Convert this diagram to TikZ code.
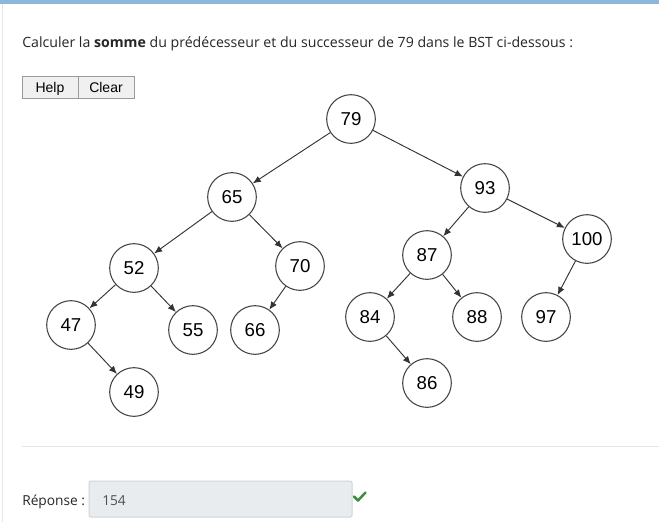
\documentclass[tikz,border=0pt]{standalone}
\usepackage{fontspec}
\setmainfont{Liberation Sans}
\newfontfamily\uifont{Open Sans}
\usetikzlibrary{arrows.meta}
\definecolor{barblue}{HTML}{8DB6DA}
\definecolor{edgegray}{HTML}{333333}
\definecolor{ringgray}{HTML}{444444}
\definecolor{sepgray}{HTML}{E6E6E6}
\definecolor{btnfill}{HTML}{F0F0F0}
\definecolor{btnline}{HTML}{9A9A9A}
\definecolor{boxfill}{HTML}{E9ECEF}
\definecolor{boxline}{HTML}{CED4DA}
\definecolor{boxtext}{HTML}{495057}
\definecolor{okgreen}{HTML}{3E8E3E}
\begin{document}
\begin{tikzpicture}[x=0.75pt,y=-0.75pt,
  bstnode/.style={circle,draw=ringgray,line width=0.8pt,fill=white,minimum size=36.5pt,inner sep=0pt,font=\fontsize{14}{16}\selectfont},
  bstedge/.style={draw=edgegray,line width=0.7pt,-{Latex[length=6pt,width=5pt]}},
  uitext/.style={font=\uifont\fontsize{10.3}{12}\selectfont,text=black!85,inner sep=0pt},
  titletext/.style={font=\uifont\fontsize{10.6}{12}\selectfont,text=black!85,inner sep=0pt},
  btntext/.style={font=\fontsize{10.5}{12}\selectfont,inner sep=0pt,anchor=base}]
\useasboundingbox (0,0) rectangle (659,522);
\fill[white] (0,0) rectangle (659,522);
\fill[barblue] (0,0) rectangle (659,4);
\draw[sepgray,line width=0.75pt] (2.5,4) -- (2.5,522);
% title
\node[titletext,anchor=base west] (title) at (22,47) {Calculer la \textbf{somme} du prédécesseur et du successeur de 79 dans le BST ci-dessous :};
% buttons
\draw[btnline,fill=btnfill,line width=0.75pt] (22,76) rectangle (134,98);
\draw[btnline,line width=0.75pt] (78,76) -- (78,98);
\node[btntext] (help) at (50,92) {Help};
\node[btntext] (clear) at (106,92) {Clear};
% tree nodes
\node[bstnode] (n79) at (351,119) {79};
\node[bstnode] (n65) at (232,197) {65};
\node[bstnode] (n93) at (485,188) {93};
\node[bstnode] (n52) at (134,268) {52};
\node[bstnode] (n70) at (300,266) {70};
\node[bstnode] (n87) at (427,255) {87};
\node[bstnode] (n100) at (587,239) {100};
\node[bstnode] (n47) at (71,325) {47};
\node[bstnode] (n55) at (193,330) {55};
\node[bstnode] (n66) at (255,330) {66};
\node[bstnode] (n84) at (370,317) {84};
\node[bstnode] (n88) at (477,317) {88};
\node[bstnode] (n97) at (546,317) {97};
\node[bstnode] (n49) at (134,392) {49};
\node[bstnode] (n86) at (427,383) {86};
% edges
\draw[bstedge] (n79) -- (n65);
\draw[bstedge] (n79) -- (n93);
\draw[bstedge] (n65) -- (n52);
\draw[bstedge] (n65) -- (n70);
\draw[bstedge] (n52) -- (n47);
\draw[bstedge] (n52) -- (n55);
\draw[bstedge] (n47) -- (n49);
\draw[bstedge] (n70) -- (n66);
\draw[bstedge] (n93) -- (n87);
\draw[bstedge] (n93) -- (n100);
\draw[bstedge] (n87) -- (n84);
\draw[bstedge] (n87) -- (n88);
\draw[bstedge] (n84) -- (n86);
\draw[bstedge] (n100) -- (n97);
% separator
\draw[sepgray,line width=0.75pt] (22,446) -- (659,446);
% answer
\node[uitext,anchor=base west] (rep) at (22,505) {Réponse :};
\draw[boxline,fill=boxfill,line width=0.75pt,rounded corners=1.5pt] (89,481) rectangle (352,517);
\node[uitext,anchor=base west,text=boxtext] (val) at (102,505) {154};
\coordinate (c1) at (354,496.5);
\coordinate (c2) at (358,500.5);
\coordinate (c3) at (365.5,492.5);
\draw[okgreen,line width=1.9pt,line cap=round,line join=round] (c1) -- (c2) -- (c3);
\end{tikzpicture}
\end{document}
